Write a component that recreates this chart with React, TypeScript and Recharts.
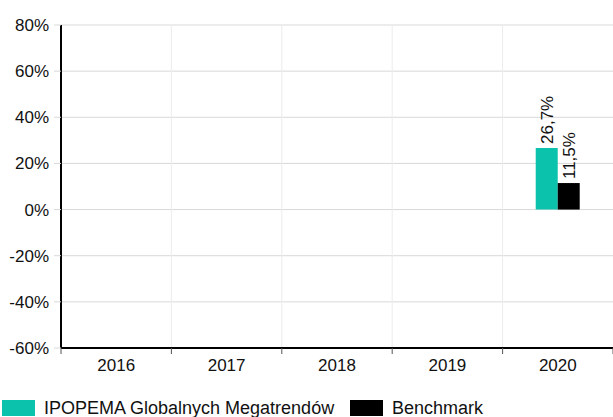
import { Bar, BarChart, CartesianGrid, LabelList, Legend, XAxis, YAxis } from 'recharts'

const years = ['2016', '2017', '2018', '2019', '2020']
const fundValues = [null, null, null, null, 26.7]
const benchmarkValues = [null, null, null, null, 11.5]
const yTicks = [-60, -40, -20, 0, 20, 40, 60, 80]

const FUND = 'IPOPEMA Globalnych Megatrendów'
const BENCH = 'Benchmark'
const TEAL = '#0bc2ad'
const FONT = '"Liberation Sans", Arial, sans-serif'

const data = years.map((year, i) => ({
  year,
  fund: fundValues[i],
  bench: benchmarkValues[i],
}))

const W = 613
const H = 436
const LEFT = 61
const plotW = W - LEFT
const bandW = plotW / years.length

const pct = (v: number) => `${String(v).replace('.', ',')}%`

function YearTick({ x, y, payload, index }: any) {
  const left = x - bandW / 2
  return (
    <g>
      <line x1={left} y1={y - 8} x2={left} y2={y - 2} stroke="#555" strokeWidth={1} />
      {index === years.length - 1 && (
        <line x1={x + bandW / 2} y1={y - 8} x2={x + bandW / 2} y2={y - 2} stroke="#555" />
      )}
      <text x={x} y={y + 15} textAnchor="middle" fontSize={17} fill="#111" fontFamily={FONT}>
        {payload.value}
      </text>
    </g>
  )
}

function RotatedLabel({ x, y, width, value }: any) {
  if (value == null) return null
  const cx = x + width / 2
  return (
    <text
      transform={`translate(${cx + 1}, ${y - 4}) rotate(-90)`}
      textAnchor="start"
      dominantBaseline="central"
      fontSize={17}
      fill="#111"
      fontFamily={FONT}
    >
      {pct(value)}
    </text>
  )
}

function LegendBox() {
  const item = (color: string, label: string, width: number) => (
    <div style={{ display: 'flex', alignItems: 'flex-start', width }}>
      <div style={{ width: 33, height: 16, background: color, marginTop: 1 }} />
      <span style={{ marginLeft: 9, fontSize: 18, lineHeight: '18px', color: '#111' }}>{label}</span>
    </div>
  )
  return (
    <div style={{ display: 'flex', height: 37, paddingLeft: 2, fontFamily: FONT }}>
      {item(TEAL, FUND, 348)}
      {item('#000', BENCH, 200)}
    </div>
  )
}

export default function App() {
  return (
    <div style={{ width: W, height: 417, overflow: 'hidden', background: '#fff' }}>
      <style>{'body{margin:0;overflow:hidden}'}</style>
      <BarChart
        width={W}
        height={H}
        data={data}
        margin={{ top: 25, right: 0, left: 0, bottom: 0 }}
        barCategoryGap="30%"
        barGap={0}
      >
        <CartesianGrid vertical={false} stroke="#d9d9d9" />
        <CartesianGrid
          horizontal={false}
          stroke="#ececec"
          verticalCoordinatesGenerator={({ offset }: any) =>
            [1, 2, 3, 4].map((i) => offset.left + (i * offset.width) / years.length)
          }
        />
        <XAxis
          dataKey="year"
          height={51}
          tickLine={false}
          axisLine={{ stroke: '#000', strokeWidth: 2 }}
          tick={<YearTick />}
          interval={0}
        />
        <YAxis
          width={LEFT}
          domain={[-60, 80]}
          ticks={yTicks}
          interval={0}
          tickSize={7}
          tickMargin={5}
          tickLine={{ stroke: '#d9d9d9' }}
          axisLine={{ stroke: '#000', strokeWidth: 2 }}
          tickFormatter={(v: number) => `${v}%`}
          tick={{ fontSize: 17, fill: '#111', fontFamily: FONT }}
        />
        <Legend verticalAlign="bottom" content={<LegendBox />} />
        <Bar dataKey="fund" name={FUND} fill={TEAL} isAnimationActive={false}>
          <LabelList dataKey="fund" content={<RotatedLabel />} />
        </Bar>
        <Bar dataKey="bench" name={BENCH} fill="#000" isAnimationActive={false}>
          <LabelList dataKey="bench" content={<RotatedLabel />} />
        </Bar>
      </BarChart>
    </div>
  )
}
